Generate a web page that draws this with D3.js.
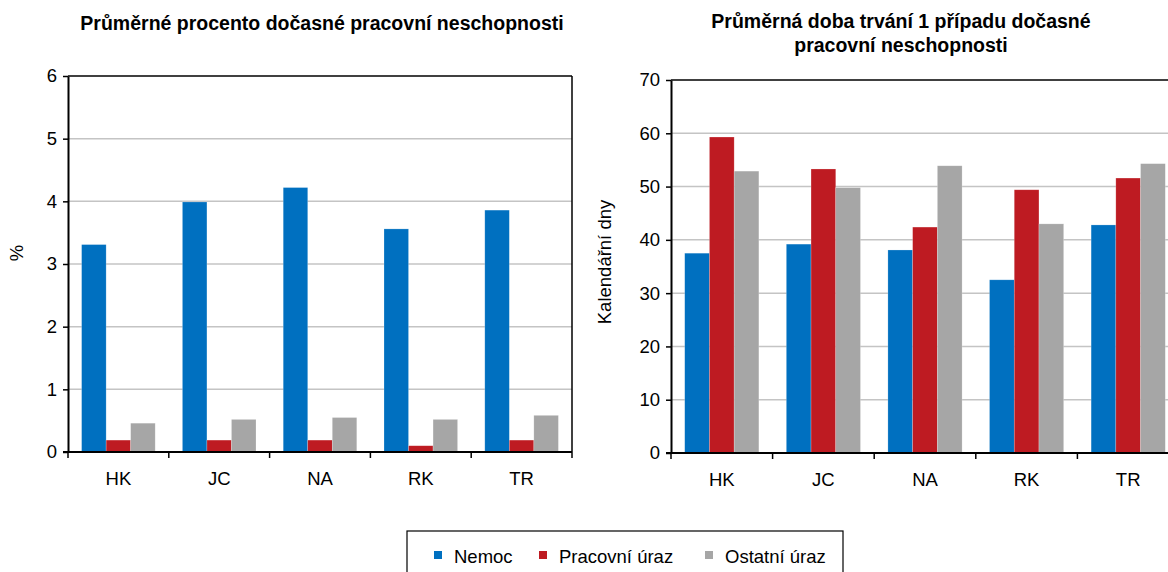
<!DOCTYPE html>
<html>
<head>
<meta charset="utf-8">
<script src="https://cdn.jsdelivr.net/npm/d3@7"></script>
<style>
  body { margin: 0; background: #fff; }
  svg { font-family: "Liberation Sans", Arial, sans-serif; }
</style>
</head>
<body>
<svg id="chart" width="1168" height="572"></svg>
<script>
// data
var regions = ["HK", "JC", "NA", "RK", "TR"];
var seriesNames = ["Nemoc", "Pracovní úraz", "Ostatní úraz"];
var colors = ["#0070c0", "#be1b22", "#a6a6a6"];

// average percentage of temporary incapacity
var pctNemoc = [3.31, 3.99, 4.22, 3.56, 3.86];
var pctPracovni = [0.19, 0.19, 0.19, 0.10, 0.19];
var pctOstatni = [0.46, 0.52, 0.55, 0.52, 0.585];

// average duration of one case (calendar days)
var dnyNemoc = [37.5, 39.2, 38.1, 32.5, 42.8];
var dnyPracovni = [59.3, 53.3, 42.4, 49.4, 51.6];
var dnyOstatni = [52.9, 49.8, 53.9, 43.0, 54.3];

var leftTicks = [0, 1, 2, 3, 4, 5, 6];
var rightTicks = [0, 10, 20, 30, 40, 50, 60, 70];

var svg = d3.select("#chart");
var fs = 18.5;

function drawChart(cfg) {
  var g = svg.append("g");
  var x0 = d3.scaleBand().domain(regions).range([cfg.left, cfg.right]).padding(0);
  var bw = x0.bandwidth();
  var x1 = d3.scaleBand().domain(seriesNames).range([bw * 0.135, bw * 0.865]).padding(0);
  var y = d3.scaleLinear().domain([0, cfg.max]).range([cfg.bottom, cfg.top]);

  // gridlines
  g.selectAll(".grid")
    .data(cfg.ticks.slice(1, -1))
    .enter().append("line")
    .attr("x1", cfg.left).attr("x2", cfg.right)
    .attr("y1", function(d) { return y(d); })
    .attr("y2", function(d) { return y(d); })
    .attr("stroke", "#c4c4c4")
    .attr("stroke-width", 1.5);

  // bars
  var rows = regions.map(function(r, i) {
    return seriesNames.map(function(s, j) {
      return {region: r, series: s, value: cfg.values[j][i], color: colors[j]};
    });
  });
  g.selectAll(".grp")
    .data(rows)
    .enter().append("g")
    .attr("transform", function(d) { return "translate(" + x0(d[0].region) + ",0)"; })
    .selectAll("rect")
    .data(function(d) { return d; })
    .enter().append("rect")
    .attr("x", function(d) { return x1(d.series); })
    .attr("width", x1.bandwidth())
    .attr("y", function(d) { return y(d.value); })
    .attr("height", function(d) { return cfg.bottom - y(d.value); })
    .attr("fill", function(d) { return d.color; })
    .attr("stroke", "rgba(255,255,255,0.35)")
    .attr("stroke-width", 0.6);

  // frame top / right
  g.append("line").attr("x1", cfg.left).attr("x2", cfg.right)
    .attr("y1", cfg.top).attr("y2", cfg.top).attr("stroke", "#000").attr("stroke-width", 1.5);
  g.append("line").attr("x1", cfg.right).attr("x2", cfg.right)
    .attr("y1", cfg.top).attr("y2", cfg.bottom).attr("stroke", "#000").attr("stroke-width", 1.5);

  // y axis
  var yAxis = g.append("g")
    .attr("transform", "translate(" + cfg.left + ",0)")
    .call(d3.axisLeft(y).tickValues(cfg.ticks).tickFormat(d3.format("d"))
      .tickSize(5).tickPadding(6).tickSizeOuter(0));
  yAxis.select(".domain").attr("stroke-width", 2);
  yAxis.selectAll(".tick line").attr("stroke-width", 1.5);
  yAxis.selectAll("text").attr("font-size", fs).attr("fill", "#000")
    .attr("font-family", "Liberation Sans, Arial, sans-serif");

  // x axis: ticks at category boundaries
  var xAxis = g.append("g").attr("transform", "translate(0," + cfg.bottom + ")");
  xAxis.append("line").attr("x1", cfg.left - 5).attr("x2", cfg.right)
    .attr("stroke", "#000").attr("stroke-width", 2);
  var bounds = regions.map(function(r) { return x0(r); }).concat([cfg.right]);
  xAxis.selectAll(".xt")
    .data(bounds)
    .enter().append("line")
    .attr("x1", function(d) { return d; }).attr("x2", function(d) { return d; })
    .attr("y1", 0).attr("y2", 6)
    .attr("stroke", "#000").attr("stroke-width", 1.5);
  xAxis.selectAll(".xl")
    .data(regions)
    .enter().append("text")
    .attr("x", function(d) { return x0(d) + bw / 2; })
    .attr("y", 33)
    .attr("text-anchor", "middle")
    .attr("font-size", fs)
    .text(function(d) { return d; });

  // y label
  g.append("text")
    .attr("transform", "translate(" + cfg.labelX + "," + cfg.labelY + ") rotate(-90)")
    .attr("text-anchor", "middle")
    .attr("font-size", fs)
    .text(cfg.label);

  // title
  var t = g.append("text")
    .attr("text-anchor", "middle")
    .attr("font-size", 19.5)
    .attr("font-weight", "bold");
  cfg.title.forEach(function(line, i) {
    t.append("tspan").attr("x", cfg.titleX).attr("y", cfg.titleY + i * 24).text(line);
  });
}

drawChart({
  left: 68, right: 572, top: 76, bottom: 452, max: 6,
  ticks: leftTicks,
  values: [pctNemoc, pctPracovni, pctOstatni],
  label: "%", labelX: 23, labelY: 253,
  title: ["Průměrné procento dočasné pracovní neschopnosti"],
  titleX: 322, titleY: 30
});

drawChart({
  left: 671, right: 1179, top: 80, bottom: 453, max: 70,
  ticks: rightTicks,
  values: [dnyNemoc, dnyPracovni, dnyOstatni],
  label: "Kalendářní dny", labelX: 611, labelY: 262,
  title: ["Průměrná doba trvání 1 případu dočasné", "pracovní neschopnosti"],
  titleX: 901, titleY: 28
});

// legend
var legend = svg.append("g");
legend.append("rect")
  .attr("x", 407).attr("y", 531).attr("width", 436).attr("height", 60)
  .attr("fill", "none").attr("stroke", "#000").attr("stroke-width", 1.2);
var legendX = d3.scaleOrdinal().domain(seriesNames).range([434, 539, 705]);
var items = legend.selectAll(".li")
  .data(seriesNames)
  .enter().append("g")
  .attr("transform", function(d) { return "translate(" + legendX(d) + ",0)"; });
items.append("rect")
  .attr("x", 0).attr("y", 551).attr("width", 8).attr("height", 8)
  .attr("fill", function(d, i) { return colors[i]; });
items.append("text")
  .attr("x", 20).attr("y", 563)
  .attr("font-size", fs)
  .text(function(d) { return d; });
</script>
</body>
</html>
